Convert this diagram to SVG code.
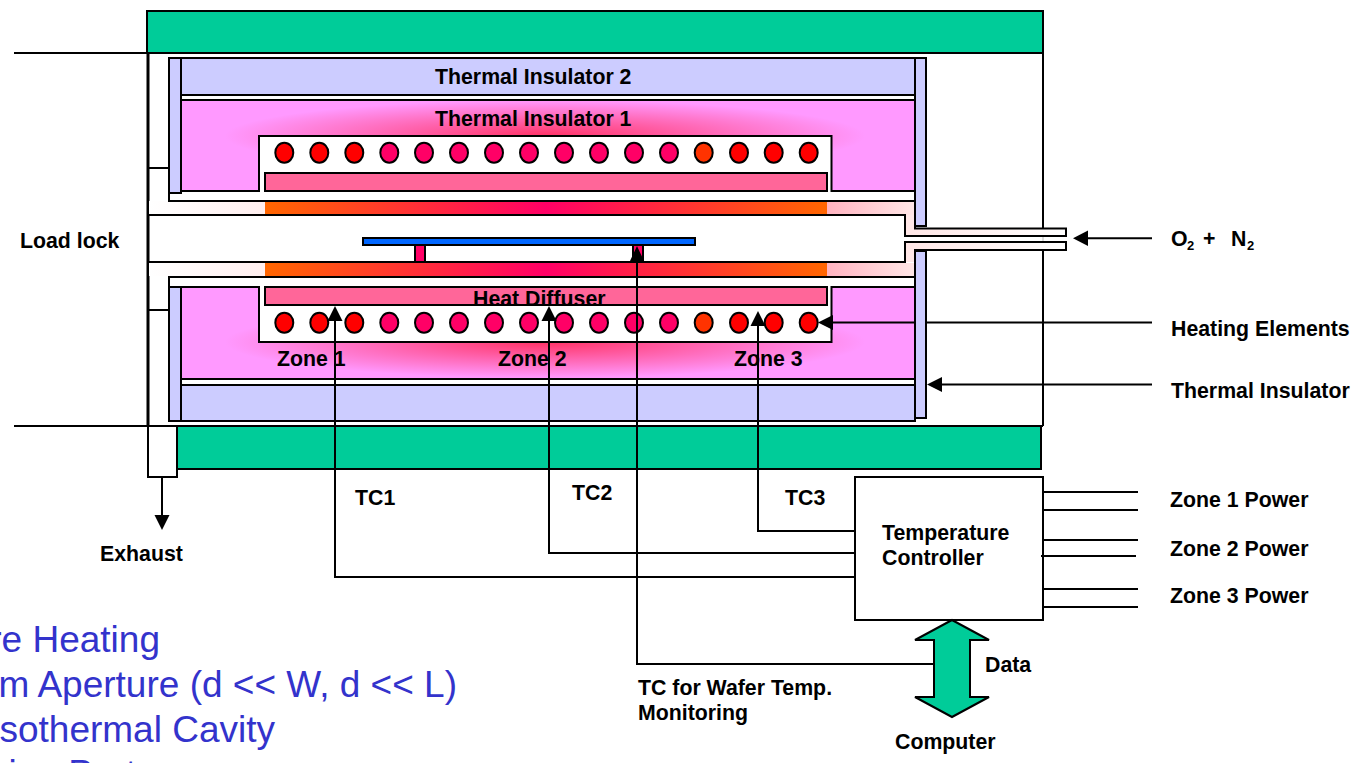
<svg xmlns="http://www.w3.org/2000/svg" width="1364" height="763" viewBox="0 0 1364 763">
<style>
text{font-family:"Liberation Sans",Arial,sans-serif;font-weight:bold;font-size:21.3px;fill:#000}
.b{font-weight:normal;font-size:37px;fill:#3333CC}
.sub{font-size:13px}
.s{stroke:#000;stroke-width:2;fill:none}
.ins{fill:#CCCCFF;stroke:#000;stroke-width:2}
.green{fill:#00CC99;stroke:#000;stroke-width:2}
.dif{fill:#FF6699;stroke:#000;stroke-width:2}
.r{fill:#FF0000;stroke:#000;stroke-width:2}
.m{fill:#FF0066;stroke:#000;stroke-width:2}
.o{fill:#FF3300;stroke:#000;stroke-width:2}
</style>
<defs>
<radialGradient id="pt" gradientUnits="userSpaceOnUse" cx="0" cy="0" r="1" gradientTransform="translate(545 136) scale(320 36)"><stop offset="0" stop-color="#FF3366"/><stop offset="1" stop-color="#FF99FF"/></radialGradient>
<radialGradient id="pb" gradientUnits="userSpaceOnUse" cx="0" cy="0" r="1" gradientTransform="translate(545 342) scale(320 36)"><stop offset="0" stop-color="#FF3366"/><stop offset="1" stop-color="#FF99FF"/></radialGradient>
<linearGradient id="band"><stop offset="0" stop-color="#FF6600"/><stop offset="0.5" stop-color="#FF0066"/><stop offset="1" stop-color="#FF6600"/></linearGradient>
<linearGradient id="fl"><stop offset="0" stop-color="#FFFFFF"/><stop offset="1" stop-color="#FFEEEE"/></linearGradient>
<linearGradient id="fr"><stop offset="0" stop-color="#FFB3C0"/><stop offset="1" stop-color="#FFE6E6"/></linearGradient>
<linearGradient id="ft"><stop offset="0" stop-color="#FFE6E6"/><stop offset="1" stop-color="#FFFFFF"/></linearGradient>
</defs>
<g id="frame">
<rect class="green" x="147" y="11" width="896" height="42"/>
<rect class="green" x="177" y="426" width="864" height="43"/>
<path d="M1043 53V426" class="s"/>
<path d="M148 53V426" stroke="#000" stroke-width="3" fill="none"/>
<path d="M14 53H147M14 426H1043" class="s"/>
<rect x="148" y="426" width="29" height="51" fill="#fff" stroke="#000" stroke-width="2"/>
</g>
<g id="thermal-insulator-2">
<rect class="ins" x="181" y="58" width="734" height="37"/>
<rect class="ins" x="181" y="385" width="734" height="36"/>
<rect class="ins" x="169" y="58" width="12" height="135"/>
<rect class="ins" x="169" y="287" width="12" height="134"/>
<rect class="ins" x="915" y="58" width="11" height="168"/>
<rect class="ins" x="915" y="251" width="11" height="167"/>
</g>
<g id="thermal-insulator-1">
<path d="M181 100H915V191H831.500V136H259V191H181Z" fill="url(#pt)" stroke="#000" stroke-width="2"/>
<path d="M181 287H259V342H831.500V287H915V379H181Z" fill="url(#pb)" stroke="#000" stroke-width="2"/>
</g>
<g id="chamber">
<rect x="265" y="201" width="562" height="14" fill="url(#band)"/>
<rect x="265" y="263" width="562" height="13" fill="url(#band)"/>
<rect x="149" y="201" width="116" height="14" fill="url(#fl)"/>
<rect x="149" y="263" width="116" height="13" fill="url(#fl)"/>
<rect x="827" y="201" width="88" height="14" fill="url(#fr)"/>
<rect x="827" y="263" width="88" height="13" fill="url(#fr)"/>
<path d="M905 215H915V229H1066V236H905Z" fill="url(#ft)"/>
<path d="M905 262H915V249H1066V242H905Z" fill="url(#ft)"/>
<rect x="1042" y="236" width="2" height="6" fill="#ddd"/>
<path d="M149 168H169V201H915V228.500H1066V236H905V215H149" class="s"/>
<path d="M149 310H169V277H915V250H1066V242H905V262H149" class="s"/>
</g>
<g id="heat-diffuser">
<rect class="dif" x="265" y="173" width="562" height="18"/>
<rect class="dif" x="265" y="287" width="562" height="18"/>
</g>
<g id="heating-elements-top">
<ellipse class="r" cx="284.300" cy="152.700" rx="9" ry="10"/><ellipse class="r" cx="319.300" cy="152.700" rx="9" ry="10"/><ellipse class="r" cx="354.300" cy="152.700" rx="9" ry="10"/><ellipse class="m" cx="389.300" cy="152.700" rx="9" ry="10"/><ellipse class="m" cx="424" cy="152.700" rx="9" ry="10"/><ellipse class="m" cx="459" cy="152.700" rx="9" ry="10"/><ellipse class="m" cx="494" cy="152.700" rx="9" ry="10"/><ellipse class="m" cx="529" cy="152.700" rx="9" ry="10"/><ellipse class="m" cx="564" cy="152.700" rx="9" ry="10"/><ellipse class="m" cx="599" cy="152.700" rx="9" ry="10"/><ellipse class="m" cx="634" cy="152.700" rx="9" ry="10"/><ellipse class="m" cx="669" cy="152.700" rx="9" ry="10"/><ellipse class="o" cx="703.700" cy="152.700" rx="9" ry="10"/><ellipse class="r" cx="739" cy="152.700" rx="9" ry="10"/><ellipse class="r" cx="773.700" cy="152.700" rx="9" ry="10"/><ellipse class="r" cx="808.700" cy="152.700" rx="9" ry="10"/>
</g>
<g id="heating-elements-bottom">
<ellipse class="r" cx="284.300" cy="322.700" rx="9" ry="10"/><ellipse class="r" cx="319.300" cy="322.700" rx="9" ry="10"/><ellipse class="r" cx="354.300" cy="322.700" rx="9" ry="10"/><ellipse class="m" cx="389.300" cy="322.700" rx="9" ry="10"/><ellipse class="m" cx="424" cy="322.700" rx="9" ry="10"/><ellipse class="m" cx="459" cy="322.700" rx="9" ry="10"/><ellipse class="m" cx="494" cy="322.700" rx="9" ry="10"/><ellipse class="m" cx="529" cy="322.700" rx="9" ry="10"/><ellipse class="m" cx="564" cy="322.700" rx="9" ry="10"/><ellipse class="m" cx="599" cy="322.700" rx="9" ry="10"/><ellipse class="m" cx="634" cy="322.700" rx="9" ry="10"/><ellipse class="m" cx="669" cy="322.700" rx="9" ry="10"/><ellipse class="o" cx="703.700" cy="322.700" rx="9" ry="10"/><ellipse class="r" cx="739" cy="322.700" rx="9" ry="10"/><ellipse class="r" cx="773.700" cy="322.700" rx="9" ry="10"/><ellipse class="r" cx="808.700" cy="322.700" rx="9" ry="10"/>
</g>
<g id="wafer">
<rect x="415" y="245" width="10" height="17" fill="#FF0066" stroke="#000" stroke-width="2"/>
<rect x="633" y="245" width="10" height="17" fill="#FF0066" stroke="#000" stroke-width="2"/>
<rect x="363" y="238" width="332" height="7" fill="#0066FF" stroke="#000" stroke-width="2"/>
</g>
<g id="controller">
<rect x="855" y="477" width="188" height="143" fill="#fff" stroke="#000" stroke-width="2"/>
</g>
<g id="labels">
<text x="435" y="83.500">Thermal Insulator 2</text>
<text x="435" y="125.500">Thermal Insulator 1</text>
<text x="473" y="306">Heat Diffuser</text>
<text x="277" y="365.500">Zone 1</text>
<text x="498" y="365.500">Zone 2</text>
<text x="734" y="365.500">Zone 3</text>
<text x="20" y="248">Load lock</text>
<text x="100" y="560.500">Exhaust</text>
<text x="355" y="504.500">TC1</text>
<text x="572" y="499.500">TC2</text>
<text x="785" y="504.500">TC3</text>
<text x="882" y="540">Temperature</text>
<text x="882" y="565">Controller</text>
<text x="985" y="672">Data</text>
<text x="638" y="694.500">TC for Wafer Temp.</text>
<text x="638" y="719.500">Monitoring</text>
<text x="895" y="748.500">Computer</text>
<text x="1171" y="245.500">O</text><text class="sub" x="1187" y="250">2</text>
<text x="1203" y="245.500">+</text>
<text x="1231" y="245.500">N</text><text class="sub" x="1247" y="250">2</text>
<text x="1171" y="336">Heating Elements</text>
<text x="1171" y="397.500">Thermal Insulator</text>
<text x="1170" y="506.500">Zone 1 Power</text>
<text x="1170" y="555.500">Zone 2 Power</text>
<text x="1170" y="602.500">Zone 3 Power</text>
<text class="b" x="160" y="652" text-anchor="end">re Heating</text>
<text class="b" x="457" y="697" text-anchor="end">m Aperture (d &lt;&lt; W, d &lt;&lt; L)</text>
<text class="b" x="275" y="741.500" text-anchor="end">sothermal Cavity</text>
<text class="b" x="136" y="786" text-anchor="end">ion Port</text>
</g>
<g id="connectors">
<path d="M335 320V577H855" class="s"/>
<path d="M342.500 321L335 306L327.500 321Z" fill="#000"/>
<path d="M549 320V553H855" class="s"/>
<path d="M556.500 321L549 306L541.500 321Z" fill="#000"/>
<path d="M758 325V531H855" class="s"/>
<path d="M765.500 326L758 311L750.500 326Z" fill="#000"/>
<path d="M637 260V664H934" class="s"/>
<path d="M644.500 262L637 246L629.500 262Z" fill="#000"/>
<path d="M162 477V516" class="s"/>
<path d="M154.500 515L162 530L169.500 515Z" fill="#000"/>
<path d="M1152 238.300H1087" class="s"/><path d="M1088 230.500L1073 238.300L1088 246Z" fill="#000"/>
<path d="M1152 322.500H926M915 322.500H832" class="s"/><path d="M833 315L818 322.500L833 330Z" fill="#000"/>
<path d="M1152 384.500H941" class="s"/><path d="M942 377L927 384.500L942 392Z" fill="#000"/>
<path d="M1043 492H1138M1043 510H1138M1043 540H1138M1041 556H1136M1043 589H1138M1043 607H1138" class="s"/>
</g>
<g id="data-arrow">
<path d="M952 620L989 640H970V697H989L952 717L915 697H934V640H915Z" class="green"/>
</g>
</svg>
